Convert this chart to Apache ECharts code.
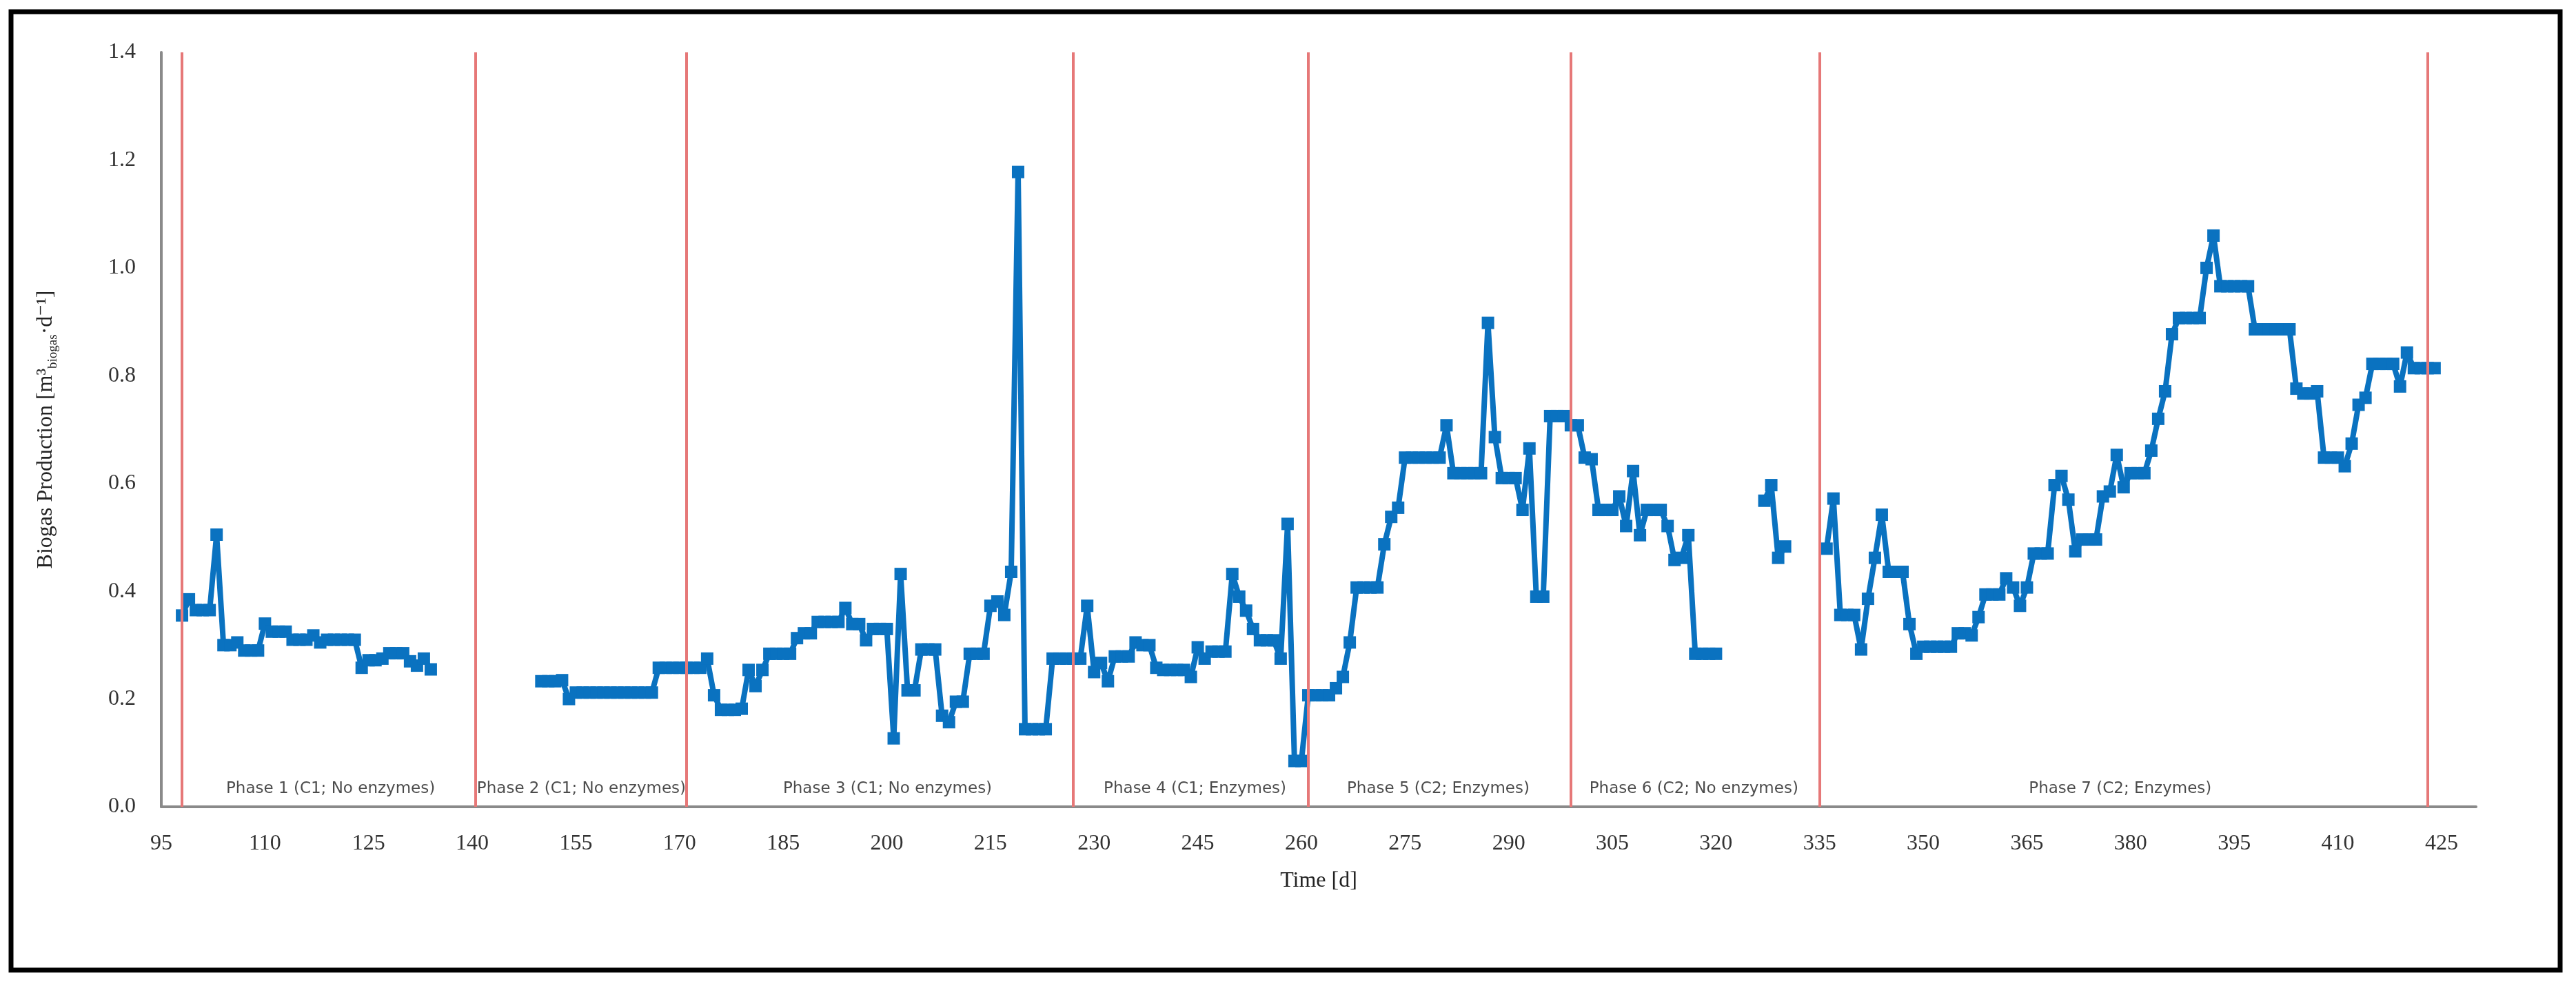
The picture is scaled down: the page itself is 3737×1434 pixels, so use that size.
<!DOCTYPE html>
<html>
<head>
<meta charset="utf-8">
<title>Biogas production</title>
<script src="https://cdn.jsdelivr.net/npm/echarts@6/dist/echarts.min.js"></script>
<style>
  html, body { margin: 0; padding: 0; background: #fff; }
  #chart { width: 3737px; height: 1434px; }
</style>
</head>
<body>
<div id="chart"></div>
<script>
// time [d]
var days = [
  98, 99, 100, 101, 102, 103, 104, 105, 106, 107, 108, 109, 110, 111, 112, 113, 114, 115, 116, 117,
  118, 119, 120, 121, 122, 123, 124, 125, 126, 127, 128, 129, 130, 131, 132, 133, 134,
  142,
  150, 151, 152, 153, 154, 155, 156, 157, 158, 159, 160, 161, 162, 163, 164, 165, 166, 167, 168, 169,
  170, 171, 172, 173, 174, 175, 176, 177, 178, 179, 180, 181, 182, 183, 184, 185, 186, 187, 188, 189,
  190, 191, 192, 193, 194, 195, 196, 197, 198, 199, 200, 201, 202, 203, 204, 205, 206, 207, 208, 209,
  210, 211, 212, 213, 214, 215, 216, 217, 218, 219, 220, 221, 222, 223, 224, 225, 226, 227, 228, 229,
  230, 231, 232, 233, 234, 235, 236, 237, 238, 239, 240, 241, 242, 243, 244, 245, 246, 247, 248, 249,
  250, 251, 252, 253, 254, 255, 256, 257, 258, 259, 260, 261, 262, 263, 264, 265, 266, 267, 268, 269,
  270, 271, 272, 273, 274, 275, 276, 277, 278, 279, 280, 281, 282, 283, 284, 285, 286, 287, 288, 289,
  290, 291, 292, 293, 294, 295, 296, 297, 298, 299, 300, 301, 302, 303, 304, 305, 306, 307, 308, 309,
  310, 311, 312, 313, 314, 315, 316, 317, 318, 319, 320,
  323,
  327, 328, 329, 330,
  333,
  336, 337, 338, 339, 340, 341, 342, 343, 344, 345, 346, 347, 348, 349,
  350, 351, 352, 353, 354, 355, 356, 357, 358, 359, 360, 361, 362, 363, 364, 365, 366, 367, 368, 369,
  370, 371, 372, 373, 374, 375, 376, 377, 378, 379, 380, 381, 382, 383, 384, 385, 386, 387, 388, 389,
  390, 391, 392, 393, 394, 395, 396, 397, 398, 399, 400, 401, 402, 403, 404, 405, 406, 407, 408, 409,
  410, 411, 412, 413, 414, 415, 416, 417, 418, 419, 420, 421, 422, 423, 424
];

// biogas production [m3 biogas / d], null = no measurement
var biogas = [
  0.355, 0.385, 0.365, 0.365, 0.365, 0.505, 0.300, 0.300, 0.305, 0.290, 0.290, 0.290, 0.340, 0.325, 0.325, 0.325, 0.310, 0.310, 0.310, 0.318,
  0.305, 0.310, 0.310, 0.310, 0.310, 0.310, 0.258, 0.272, 0.272, 0.275, 0.285, 0.285, 0.285, 0.270, 0.262, 0.275, 0.255,
  null,
  0.233, 0.233, 0.233, 0.235, 0.200, 0.212, 0.212, 0.212, 0.212, 0.212, 0.212, 0.212, 0.212, 0.212, 0.212, 0.212, 0.212, 0.258, 0.258, 0.258,
  0.258, 0.258, 0.258, 0.258, 0.275, 0.207, 0.180, 0.180, 0.180, 0.182, 0.254, 0.224, 0.254, 0.284, 0.284, 0.284, 0.284, 0.313, 0.322, 0.322,
  0.343, 0.343, 0.343, 0.343, 0.369, 0.339, 0.339, 0.309, 0.330, 0.330, 0.330, 0.127, 0.432, 0.216, 0.216, 0.292, 0.292, 0.292, 0.169, 0.157,
  0.195, 0.195, 0.284, 0.284, 0.284, 0.373, 0.381, 0.356, 0.436, 1.178, 0.144, 0.144, 0.144, 0.144, 0.275, 0.275, 0.275, 0.275, 0.275, 0.373,
  0.250, 0.267, 0.233, 0.279, 0.279, 0.279, 0.305, 0.300, 0.300, 0.258, 0.254, 0.254, 0.254, 0.254, 0.241, 0.296, 0.275, 0.288, 0.288, 0.288,
  0.432, 0.390, 0.364, 0.330, 0.309, 0.309, 0.309, 0.275, 0.525, 0.085, 0.085, 0.207, 0.207, 0.207, 0.207, 0.220, 0.241, 0.305, 0.407, 0.407,
  0.407, 0.407, 0.487, 0.538, 0.555, 0.648, 0.648, 0.648, 0.648, 0.648, 0.648, 0.708, 0.619, 0.619, 0.619, 0.619, 0.619, 0.898, 0.686, 0.610,
  0.610, 0.610, 0.551, 0.665, 0.390, 0.390, 0.725, 0.725, 0.725, 0.708, 0.708, 0.648, 0.645, 0.551, 0.551, 0.551, 0.576, 0.521, 0.623, 0.504,
  0.551, 0.551, 0.551, 0.521, 0.458, 0.462, 0.504, 0.284, 0.284, 0.284, 0.284,
  null,
  0.568, 0.597, 0.462, 0.483,
  null,
  0.479, 0.572, 0.356, 0.356, 0.356, 0.292, 0.386, 0.462, 0.542, 0.436, 0.436, 0.436, 0.339, 0.284,
  0.297, 0.297, 0.297, 0.297, 0.297, 0.322, 0.322, 0.318, 0.352, 0.394, 0.394, 0.394, 0.424, 0.407, 0.373, 0.407, 0.470, 0.470, 0.470, 0.597,
  0.614, 0.570, 0.474, 0.496, 0.496, 0.496, 0.576, 0.585, 0.653, 0.593, 0.619, 0.619, 0.619, 0.661, 0.720, 0.771, 0.877, 0.907, 0.907, 0.907,
  0.907, 1.000, 1.060, 0.966, 0.966, 0.966, 0.966, 0.966, 0.886, 0.886, 0.886, 0.886, 0.886, 0.886, 0.776, 0.767, 0.767, 0.771, 0.648, 0.648,
  0.648, 0.632, 0.674, 0.746, 0.759, 0.822, 0.822, 0.822, 0.822, 0.780, 0.843, 0.814, 0.814, 0.814, 0.814
];

// phase boundaries (red lines) and phase captions
var phaseBoundaries = [98, 140.5, 171, 227, 261, 299, 335, 423];
var phaseNames = [
  'Phase 1 (C1; No enzymes)',
  'Phase 2 (C1; No enzymes)',
  'Phase 3 (C1; No enzymes)',
  'Phase 4 (C1; Enzymes)',
  'Phase 5 (C2; Enzymes)',
  'Phase 6 (C2; No enzymes)',
  'Phase 7 (C2; Enzymes)'
];
var phaseLabelDays = [119.5, 155.8, 200.1, 244.6, 279.8, 316.8, 378.5];

var xTicks = [95, 110, 125, 140, 155, 170, 185, 200, 215, 230, 245, 260, 275, 290, 305, 320, 335, 350, 365, 380, 395, 410, 425];

var chart = echarts.init(document.getElementById('chart'), null, { renderer: 'canvas' });

var serif = '"Liberation Serif", "DejaVu Serif", serif';

var option = {
  animation: false,
  backgroundColor: '#ffffff',
  grid: { left: 234, right: 145, top: 76, bottom: 263 },
  graphic: [
    {
      type: 'rect',
      shape: { x: 16, y: 17, width: 3698, height: 1391 },
      style: { fill: 'none', stroke: '#000', lineWidth: 7 },
      silent: true
    }
  ],
  xAxis: {
    type: 'value',
    min: 95,
    max: 430,
    name: 'Time [d]',
    nameLocation: 'middle',
    nameGap: 92,
    nameTextStyle: { fontFamily: serif, fontSize: 32, color: '#222' },
    axisLine: { show: true, onZero: false, lineStyle: { color: '#8a8a8a', width: 4 } },
    axisTick: { show: false },
    splitLine: { show: false },
    axisLabel: {
      customValues: xTicks,
      margin: 38,
      fontFamily: serif,
      fontSize: 32,
      color: '#333'
    }
  },
  yAxis: {
    type: 'value',
    min: 0,
    max: 1.4,
    interval: 0.2,
    name: '{a|Biogas Production [m³}{b|biogas}{a|·d⁻¹]}',
    nameLocation: 'middle',
    nameRotate: 90,
    nameGap: 147,
    nameTextStyle: {
      color: '#222',
      rich: {
        a: { fontFamily: serif, fontSize: 32, lineHeight: 40, color: '#222' },
        b: { fontFamily: serif, fontSize: 19, lineHeight: 40, verticalAlign: 'bottom', color: '#222' }
      }
    },
    axisLine: { show: true, lineStyle: { color: '#8a8a8a', width: 4 } },
    axisTick: { show: false },
    splitLine: { show: false },
    axisLabel: {
      margin: 37,
      fontFamily: serif,
      fontSize: 32,
      color: '#333',
      formatter: function (v) { return v.toFixed(1); }
    }
  },
  series: [
    {
      type: 'scatter',
      z: 1,
      silent: true,
      symbolSize: 0,
      data: phaseLabelDays.map(function (d, i) {
        return { value: [d, 0.033], name: phaseNames[i] };
      }),
      label: {
        show: true,
        position: 'inside',
        formatter: '{b}',
        fontFamily: '"DejaVu Sans", Verdana, sans-serif',
        fontSize: 23,
        color: '#1e1e1e'
      },
      markLine: {
        silent: true,
        symbol: ['none', 'none'],
        label: { show: false },
        lineStyle: { color: '#e67878', width: 4, type: 'solid' },
        data: phaseBoundaries.map(function (d) { return { xAxis: d }; })
      }
    },
    {
      type: 'line',
      z: 3,
      connectNulls: false,
      symbol: 'rect',
      symbolSize: 18,
      showAllSymbol: true,
      lineStyle: { color: '#0a72c0', width: 8 },
      itemStyle: { color: '#0a72c0' },
      data: days.map(function (d, i) { return [d, biogas[i]]; })
    }
  ]
};

chart.setOption(option);
</script>
</body>
</html>
